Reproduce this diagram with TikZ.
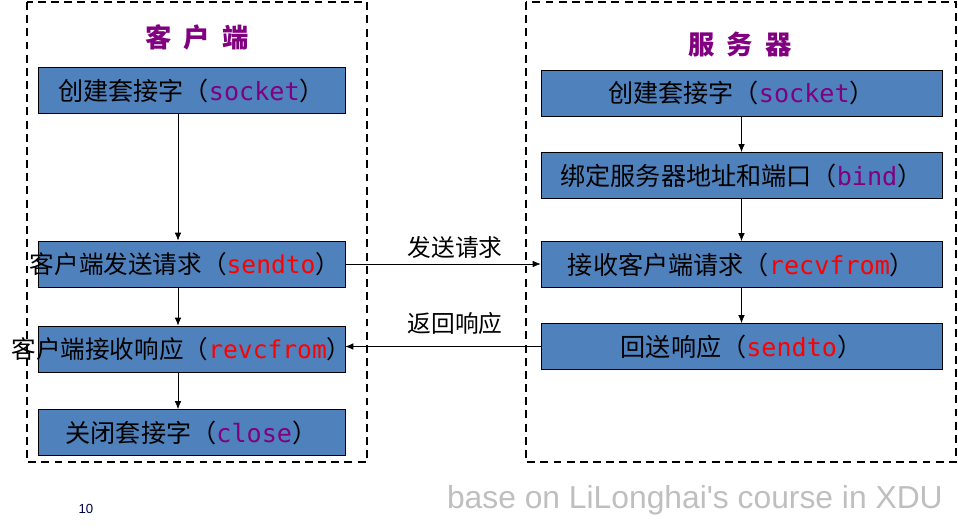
\documentclass[tikz,border=0pt]{standalone}
\usepackage{fontspec}
\setmainfont{Noto Sans CJK SC}
\setmonofont{DejaVu Sans Mono}
\newfontfamily\footfont{Liberation Sans}
\usetikzlibrary{arrows.meta}
\definecolor{boxblue}{HTML}{4F81BD}
\definecolor{apipurple}{HTML}{800080}
\definecolor{apired}{HTML}{FF0000}
\newcommand{\api}[2]{\textcolor{#1}{\ttfamily #2}}
\newcommand{\spill}[2]{\makebox[0pt]{\hspace*{#1}#2}}
\begin{document}
\begin{tikzpicture}[
    x=0.02cm, y=-0.02cm,
    >={Latex[length=1.6mm,width=1.3mm]},
    stepbox/.style={draw, fill=boxblue, minimum height=0.92cm, inner sep=0pt, font=\fontsize{14.3}{16}\selectfont},
    cbox/.style={stepbox, minimum width=6.14cm},
    sbox/.style={stepbox, minimum width=8.02cm},
    tight/.style={font=\fontsize{14}{16}\selectfont},
    frame/.style={draw, line width=1.1pt, dash pattern=on 4.5pt off 3pt},
    title/.style={font=\fontsize{15}{17}\selectfont\bfseries, text=apipurple},
    lbl/.style={font=\fontsize{13.5}{15}\selectfont},
]
\useasboundingbox (0,0) rectangle (958,528);

\draw[frame] (27,2) rectangle (367,462);
\draw[frame] (526,2) rectangle (956,462);

\node[title] (ctitle) at (197,37) {客\hspace{0.45em}户\hspace{0.45em}端};
\node[title] (stitle) at (740,44) {服\hspace{0.45em}务\hspace{0.45em}器};

% client side
\node[cbox] (csock) at (191.5,90.5) {创建套接字（\api{apipurple}{socket}）};
\node[cbox, tight] (csend) at (191.5,264) {\spill{-0.26cm}{客户端发送请求（\api{apired}{sendto}）}};
\node[cbox, tight] (crecv) at (191.5,349) {\spill{-0.4cm}{客户端接收响应（\api{apired}{revcfrom}）}};
\node[cbox] (cclose) at (191.5,432.5) {关闭套接字（\api{apipurple}{close}）};
\coordinate (caxis) at (178,0);

% server side
\node[sbox] (ssock) at (741.5,93) {创建套接字（\api{apipurple}{socket}）};
\node[sbox] (sbind) at (741.5,175.5) {绑定服务器地址和端口（\api{apipurple}{bind}）};
\node[sbox] (srecv) at (741.5,264.5) {接收客户端请求（\api{apired}{recvfrom}）};
\node[sbox] (ssend) at (741.5,346.5) {回送响应（\api{apired}{sendto}）};

\draw[->] (csock.south -| caxis) -- (csend.north -| caxis);
\draw[->] (csend.south -| caxis) -- (crecv.north -| caxis);
\draw[->] (crecv.south -| caxis) -- (cclose.north -| caxis);

\draw[->] (ssock) -- (sbind);
\draw[->] (sbind) -- (srecv);
\draw[->] (srecv) -- (ssend);

\draw[->] (csend.east) -- (csend.east -| srecv.west);
\draw[->] (ssend.west) -- (ssend.west -| crecv.east);

\node[lbl] (reqlbl) at (455,247) {发送请求};
\node[lbl] (resplbl) at (455,323) {返回响应};

\node[font=\footfont\fontsize{7.5}{9}\selectfont, text={rgb,255:red,0;green,0;blue,64}] (pageno) at (86,509) {10};
\node[font=\footfont\fontsize{18.1}{20}\selectfont, text=black!25, anchor=east] (credit) at (949,500) {base on LiLonghai's course in XDU};
\end{tikzpicture}
\end{document}
